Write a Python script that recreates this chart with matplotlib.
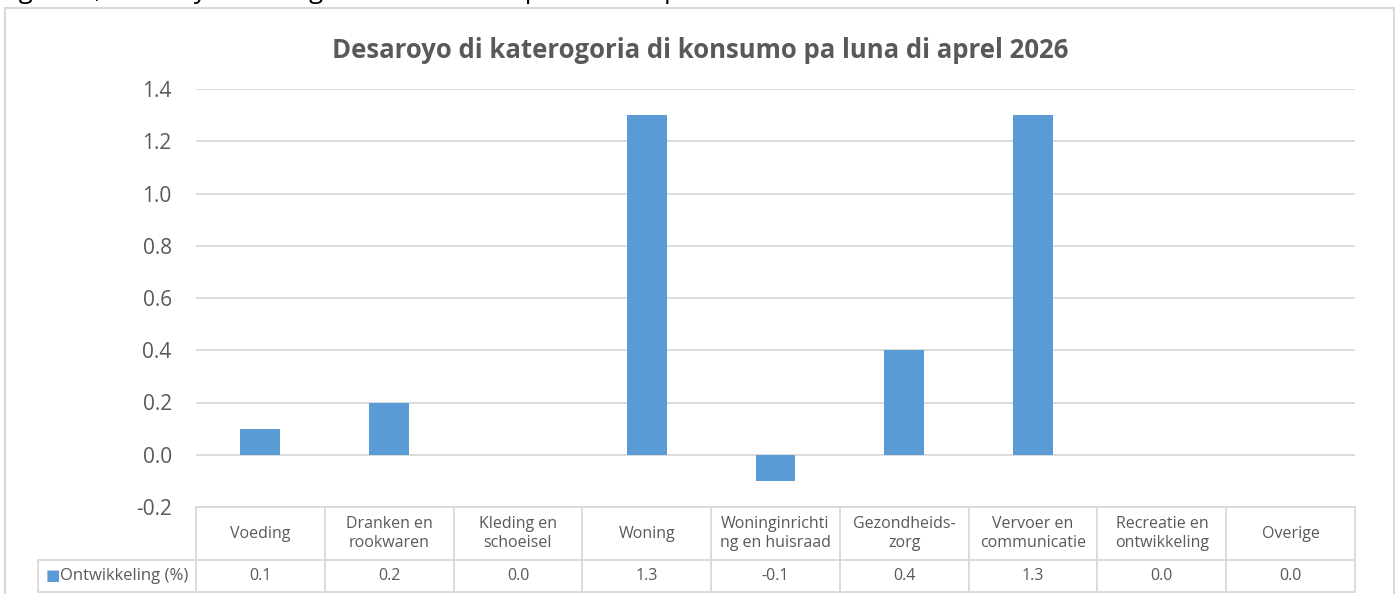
import matplotlib
matplotlib.use("Agg")
import matplotlib.pyplot as plt
from matplotlib.patches import Rectangle
from matplotlib.lines import Line2D
import matplotlib.transforms as mtransforms

categories = ["Voeding", "Dranken en\nrookwaren", "Kleding en\nschoeisel", "Woning",
              "Woninginrichti\nng en huisraad", "Gezondheids-\nzorg", "Vervoer en\ncommunicatie",
              "Recreatie en\nontwikkeling", "Overige"]
values = [0.1, 0.2, 0.0, 1.3, -0.1, 0.4, 1.3, 0.0, 0.0]
series_name = "Ontwikkeling (%)"
title = "Desaroyo di katerogoria di konsumo pa luna di aprel 2026"
caption = "Figura 1, Desaroyo di kategoria di konsumo pa luna di aprel 2026"
yticks = [-0.2, 0.0, 0.2, 0.4, 0.6, 0.8, 1.0, 1.2, 1.4]

W, H = 1398, 594
fig = plt.figure(figsize=(W / 100, H / 100), dpi=100)
plt.rcParams['font.family'] = ['Open Sans', 'DejaVu Sans']

grid_c = "#d9d9d9"
text_c = "#595959"
bar_c = "#5b9bd5"

# plot area in pixels
L, R, T, B = 196, 1355, 89, 507
ax = fig.add_axes([L / W, 1 - B / H, (R - L) / W, (B - T) / H])
x = list(range(len(categories)))
ax.bar(x, values, width=0.31, color=bar_c, zorder=3)
ax.set_xlim(-0.5, len(categories) - 0.5)
ax.set_ylim(-0.2, 1.4)
ax.set_yticks(yticks)
ax.set_yticklabels([f"{v:.1f}" for v in yticks], fontsize=15, color=text_c)
ax.tick_params(axis='y', length=0, pad=17.5)
ax.set_xticks([])
ax.grid(axis='y', color=grid_c, linewidth=1.3, zorder=0)
for s in ax.spines.values():
    s.set_visible(False)

# chart border
fig.patches.append(Rectangle((5 / W, -0.1), (1394 - 5) / W, 1 - 8 / H + 0.1,
                             transform=fig.transFigure, fill=False,
                             edgecolor=grid_c, linewidth=1.5))

# caption clipped at the top
fig.text(-1 / W, 1 + 2 / H, caption, fontsize=18.5, color="black",
         ha='left', va='baseline', transform=fig.transFigure)

fig.text(700 / W, 1 - 50 / H, title, fontsize=18.5, fontweight='bold',
         color=text_c, ha='center', va='center', transform=fig.transFigure)

# data table
blend = mtransforms.blended_transform_factory(ax.transData, ax.transAxes)
ph = B - T
y_hdr = -(560 - B) / ph
y_bot = -(592 - B) / ph
x_leg = (38 - L) / ((R - L) / len(categories)) - 0.5
n = len(categories)

def seg(x0, x1, y0, y1):
    ax.add_line(Line2D([x0, x1], [y0, y1], transform=blend, color=grid_c,
                       linewidth=1.3, clip_on=False))

seg(-0.5, n - 0.5, 0, 0)
seg(x_leg, n - 0.5, y_hdr, y_hdr)
seg(x_leg, n - 0.5, y_bot, y_bot)
for i in range(n + 1):
    seg(i - 0.5, i - 0.5, 0, y_bot)
seg(x_leg, x_leg, y_hdr, y_bot)

for i, (c, v) in enumerate(zip(categories, values)):
    ax.text(i, y_hdr / 2, c, transform=blend, ha='center', va='center',
            fontsize=11.5, color=text_c, linespacing=1.2)
    ax.text(i, (y_hdr + y_bot) / 2, f"{v:.1f}", transform=blend, ha='center',
            va='center', fontsize=11.5, color=text_c)

ax.text(x_leg + 0.06, (y_hdr + y_bot) / 2, "■", transform=blend, ha='left',
        va='center', fontsize=11, color=bar_c)
ax.text(x_leg + 0.17, (y_hdr + y_bot) / 2, series_name, transform=blend,
        ha='left', va='center', fontsize=12, color=text_c)

fig.savefig("out.png", dpi=100)
